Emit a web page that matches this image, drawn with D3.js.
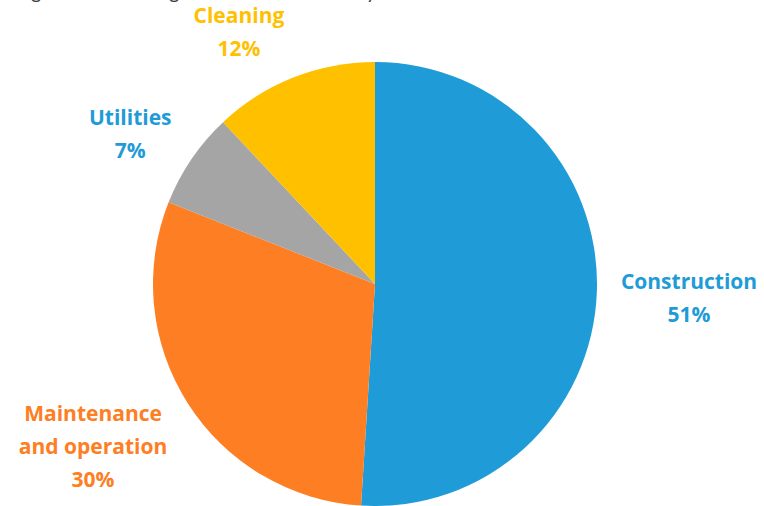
<!DOCTYPE html>
<html>
<head>
<meta charset="utf-8">
<script src="https://cdn.jsdelivr.net/npm/d3@7"></script>
<style>
  html, body { margin: 0; padding: 0; background: #fff; }
  svg { display: block; }
</style>
</head>
<body>
<div id="chart"></div>
<script>
const categories = ['Construction', 'Maintenance and operation', 'Utilities', 'Cleaning']
const shares = [51, 30, 7, 12]
const labelLines = [['Construction'], ['Maintenance', 'and operation'], ['Utilities'], ['Cleaning']]
const colors = ['#1f9bd7', '#fd7e23', '#a5a5a5', '#ffc000']
const labelColors = ['#1f9bd7', '#fd7e23', '#1f9bd7', '#ffc000']
const title = 'Figure 12: Building costs broken down by sector'

const width = 764
const height = 506
const cx = 375
const cy = 284
const radius = 222

const data = categories.map((c, i) => ({
  name: c,
  value: shares[i],
  lines: labelLines[i],
  color: colors[i],
  labelColor: labelColors[i]
}))

const svg = d3.select('#chart').append('svg')
  .attr('width', width)
  .attr('height', height)

// title sits mostly above the visible area, only the descenders show
svg.append('text')
  .attr('x', 15)
  .attr('y', -1)
  .attr('fill', '#404040')
  .style('font-family', 'Lato, sans-serif')
  .style('font-size', '20px')
  .text(title)

const g = svg.append('g').attr('transform', `translate(${cx}, ${cy})`)

const pie = d3.pie().sort(null).value((d) => d.value)
const arc = d3.arc().innerRadius(0).outerRadius(radius)
const anchorArc = d3.arc().innerRadius(radius + 24).outerRadius(radius + 24)

const arcs = pie(data)

g.selectAll('.slice')
  .data(arcs)
  .enter()
  .append('path')
  .attr('class', 'slice')
  .attr('d', arc)
  .attr('fill', (d) => d.data.color)

const lineH = 33

const labels = g.selectAll('.label')
  .data(arcs)
  .enter()
  .append('text')
  .attr('class', 'label')
  .attr('text-anchor', 'middle')
  .attr('fill', (d) => d.data.labelColor)
  .style('font-family', '"Open Sans", sans-serif')
  .style('font-weight', 'bold')
  .style('font-size', '21px')

labels.each(function (d) {
  const t = d3.select(this)
  const lines = d.data.lines.concat([d.data.value + '%'])
  lines.forEach((l, i) => {
    t.append('tspan').attr('x', 0).attr('y', i * lineH).text(l)
  })
})

// outside-end placement: push the label box away from the anchor point
labels.attr('transform', function (d) {
  const box = this.getBBox()
  const mid = (d.startAngle + d.endAngle) / 2
  const s = Math.max(-1, Math.min(1, Math.sin(mid) * 3))
  const c = Math.cos(mid)
  const [ax, ay] = anchorArc.centroid(d)
  const bx = ax + s * box.width / 2
  const by = ay - c * box.height / 2 + 5
  const ox = bx - (box.x + box.width / 2)
  const oy = by - (box.y + box.height / 2)
  return `translate(${ox}, ${oy})`
})
</script>
</body>
</html>
